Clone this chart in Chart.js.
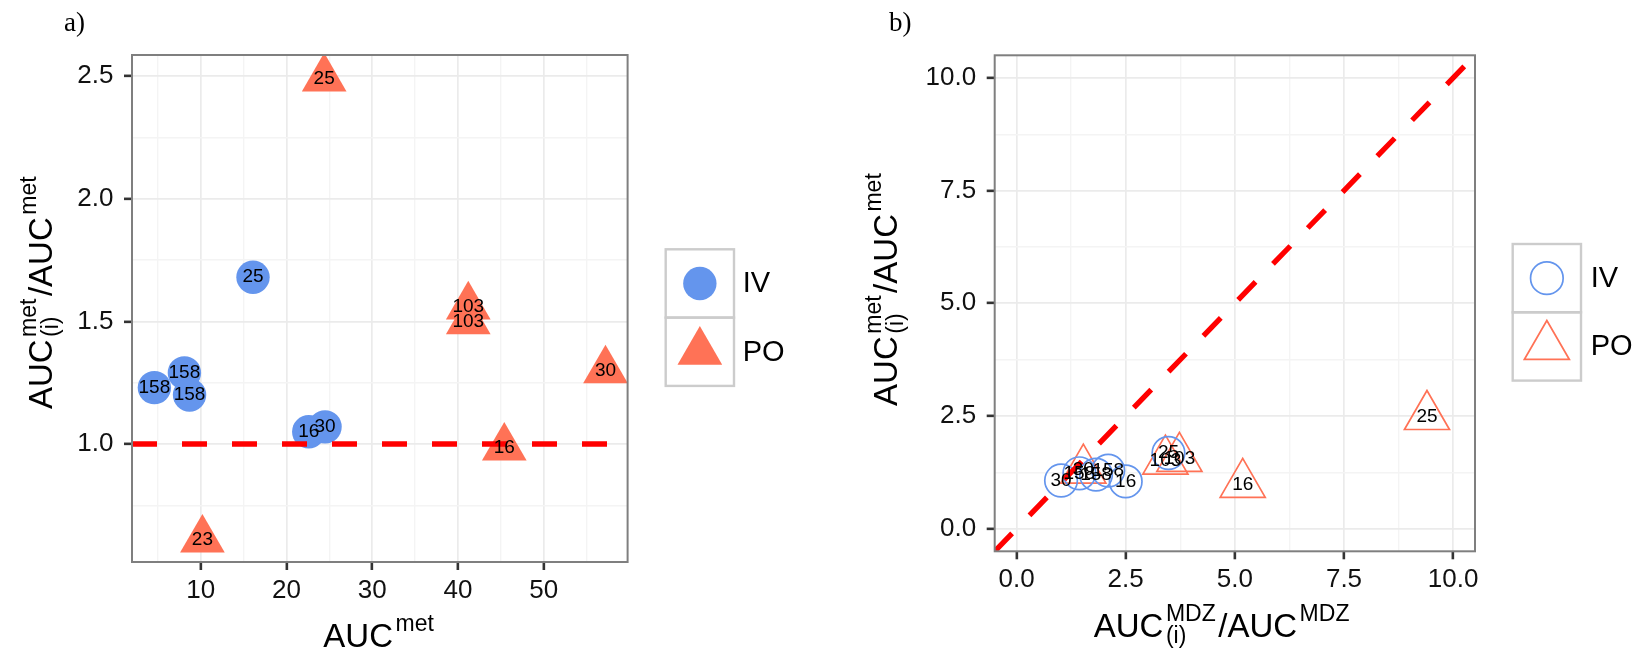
<!DOCTYPE html>
<html>
<head>
<meta charset="utf-8">
<script src="https://cdn.jsdelivr.net/npm/chart.js@4.4.0/dist/chart.umd.min.js"></script>
<style>
  html, body { margin: 0; padding: 0; background: #fff; }
  #wrap { position: relative; width: 1640px; height: 653px; }
  canvas { position: absolute; top: 0; }
  #panelA { left: 0; }
  #panelB { left: 820px; }
</style>
</head>
<body>
<div id="wrap">
  <canvas id="panelA" width="820" height="653"></canvas>
  <canvas id="panelB" width="820" height="653"></canvas>
</div>
<script>
// IV doses
const ivNames = ['158', '158', '158', '25', '16', '30'];
const ivAucMet = [4.6, 8.1, 8.7, 16.1, 22.6, 24.5];
const ivRatioMet = [1.23, 1.29, 1.20, 1.68, 1.05, 1.07];
const ivRatioMdz = [1.44, 2.10, 1.82, 3.48, 2.50, 1.02];

// PO doses (no MDZ ratio for 23)
const poNames = ['25', '103', '103', '30', '16', '23'];
const poAucMet = [24.4, 41.2, 41.2, 57.2, 45.4, 10.2];
const poRatioMet = [2.49, 1.56, 1.50, 1.30, 0.985, 0.61];
const poRatioMdz = [9.40, 3.73, 3.41, 1.53, 5.18, null];

// axis breaks and limits
const metTicks = [10, 20, 30, 40, 50];
const ratioTicks = [1.0, 1.5, 2.0, 2.5];
const mdzTicks = [0, 2.5, 5, 7.5, 10];
const metLimits = [1.99, 59.78];
const ratioLimits = [0.519, 2.586];
const mdzLimits = [-0.5, 10.5];
const refRatio = 1;

const FONT = '"Liberation Sans", Arial, sans-serif';
const IV_COL = '#6495ED';
const PO_COL = '#FF7256';
Chart.defaults.font.family = FONT;

const pts = (xs, ys, names) =>
  xs.map((x, i) => ({ x: x, y: ys[i], name: names[i] })).filter(p => p.x != null);

// major breaks plus the minor lines halfway between them
function withMinor(majors, limits) {
  const step = majors[1] - majors[0];
  const out = majors.map(v => ({ value: v }));
  const mids = majors.slice(0, -1).map(v => v + step / 2);
  mids.push(majors[0] - step / 2, majors[majors.length - 1] + step / 2);
  mids.filter(v => v > limits[0] && v < limits[1]).forEach(v => out.push({ value: v, minor: true }));
  return out.sort((a, b) => a.value - b.value);
}

function axis(limits, majors, fmt, size, horizontal) {
  return {
    type: 'linear',
    min: limits[0],
    max: limits[1],
    afterBuildTicks(scale) { scale.ticks = withMinor(majors, limits); },
    afterFit(scale) { if (horizontal) scale.height = size; else scale.width = size; },
    ticks: {
      autoSkip: false,
      maxRotation: 0,
      padding: horizontal ? 5 : 10.5,
      color: '#111',
      font: { size: 26 },
      callback: (v, i, ticks) => (ticks[i].minor ? '' : fmt(v))
    },
    grid: {
      color: c => (c.tick && c.tick.minor ? '#f4f4f4' : '#ebebeb'),
      lineWidth: c => (c.tick && c.tick.minor ? 1.4 : 1.7),
      tickColor: c => (c.tick && c.tick.minor ? 'rgba(0,0,0,0)' : '#333'),
      tickLength: 8,
      tickWidth: 2.6
    },
    border: { display: false }
  };
}

// text like AUC_(i)^met, with sub/superscripts stacked
function drawRich(ctx, groups, cx, base) {
  const main = 33, small = 23, gap = 2.5;
  const mainFont = main + 'px ' + FONT, smallFont = small + 'px ' + FONT;
  const widths = groups.map(g => {
    ctx.font = mainFont;
    const bw = ctx.measureText(g.base).width;
    ctx.font = smallFont;
    const sw = Math.max(g.sup ? ctx.measureText(g.sup).width : 0, g.sub ? ctx.measureText(g.sub).width : 0);
    return { bw, sw };
  });
  const total = widths.reduce((s, w) => s + w.bw + (w.sw ? w.sw + 2 * gap : 0), 0);
  let x = cx - total / 2;
  ctx.textAlign = 'left';
  ctx.textBaseline = 'alphabetic';
  groups.forEach((g, i) => {
    ctx.font = mainFont;
    ctx.fillText(g.base, x, base);
    x += widths[i].bw;
    if (widths[i].sw) {
      ctx.font = smallFont;
      if (g.sup) ctx.fillText(g.sup, x + gap, base - 16);
      if (g.sub) ctx.fillText(g.sub, x + gap, base + 6);
      x += widths[i].sw + 2 * gap;
    }
  });
}

function keyShape(ctx, ds, x, y) {
  ctx.fillStyle = ds.backgroundColor;
  ctx.strokeStyle = ds.borderColor;
  ctx.lineWidth = ds.borderWidth;
  Chart.helpers.drawPoint(ctx, {
    pointStyle: ds.pointStyle, radius: ds.pointRadius, rotation: 0, borderWidth: ds.borderWidth
  }, x, y);
}

const pointLabels = {
  id: 'pointLabels',
  afterDatasetsDraw(chart) {
    const { ctx, chartArea: a } = chart;
    ctx.save();
    ctx.beginPath();
    ctx.rect(a.left, a.top, a.right - a.left, a.bottom - a.top);
    ctx.clip();
    ctx.font = '19px ' + FONT;
    ctx.fillStyle = '#000';
    ctx.textAlign = 'center';
    ctx.textBaseline = 'middle';
    chart.data.datasets.forEach((ds, di) => {
      if (!ds.keyed) return;
      chart.getDatasetMeta(di).data.forEach((el, i) => ctx.fillText(ds.data[i].name, el.x, el.y));
    });
    ctx.restore();
  }
};

function panelDecor(spec) {
  return {
    id: 'panelDecor',
    afterDraw(chart) {
      const { ctx, chartArea: a } = chart;
      ctx.save();
      ctx.strokeStyle = '#7f7f7f';
      ctx.lineWidth = 2;
      ctx.strokeRect(a.left, a.top, a.right - a.left, a.bottom - a.top);

      ctx.fillStyle = '#000';
      drawRich(ctx, spec.xTitle, (a.left + a.right) / 2 + spec.xTitleShift, spec.xTitleY);
      ctx.save();
      ctx.translate(spec.yTitleX, (a.top + a.bottom) / 2 + spec.yTitleShift);
      ctx.rotate(-Math.PI / 2);
      drawRich(ctx, spec.yTitle, 0, 0);
      ctx.restore();

      ctx.font = '27px "Liberation Serif", serif';
      ctx.textAlign = 'left';
      ctx.textBaseline = 'alphabetic';
      ctx.fillText(spec.tag, spec.tagX, spec.tagY);

      // legend keys
      const k = spec.key;
      chart.data.datasets.filter(ds => ds.keyed).forEach((ds, i) => {
        const top = k.y + i * k.size;
        ctx.save();
        ctx.strokeStyle = '#cccccc';
        ctx.lineWidth = 2.4;
        ctx.strokeRect(k.x, top, k.size, k.size);
        keyShape(ctx, ds, k.x + k.size / 2, top + k.size / 2);
        ctx.restore();
        ctx.fillStyle = '#000';
        ctx.font = '29px ' + FONT;
        ctx.textAlign = 'left';
        ctx.textBaseline = 'middle';
        ctx.fillText(ds.label, k.textX, top + k.size / 2 + 1);
      });
      ctx.restore();
    }
  };
}

const ratioTitle = [{ base: 'AUC', sub: '(i)', sup: 'met' }, { base: '/AUC', sup: 'met' }];
const fmt1 = v => v.toFixed(1);

const common = {
  responsive: false,
  animation: false,
  events: [],
  plugins: { legend: { display: false }, tooltip: { enabled: false } }
};

// a) ratio against metabolite AUC
new Chart(document.getElementById('panelA'), {
  type: 'scatter',
  data: {
    datasets: [
      {
        type: 'line', order: 0,
        data: [{ x: metLimits[0], y: refRatio }, { x: metLimits[1], y: refRatio }],
        borderColor: '#ff0000', borderWidth: 5.3, borderDash: [25, 25], borderCapStyle: 'butt',
        pointRadius: 0, fill: false
      },
      {
        label: 'IV', keyed: true, order: 1,
        data: pts(ivAucMet, ivRatioMet, ivNames),
        pointStyle: 'circle', pointRadius: 16.7,
        backgroundColor: IV_COL, borderColor: IV_COL, borderWidth: 0
      },
      {
        label: 'PO', keyed: true, order: 2,
        data: pts(poAucMet, poRatioMet, poNames),
        pointStyle: 'triangle', pointRadius: 25.8,
        backgroundColor: PO_COL, borderColor: PO_COL, borderWidth: 0
      }
    ]
  },
  options: Object.assign({}, common, {
    layout: { padding: { left: 0, top: 55, right: 192.4, bottom: 0 } },
    scales: {
      x: axis(metLimits, metTicks, v => String(v), 91, true),
      y: axis(ratioLimits, ratioTicks, fmt1, 132, false)
    }
  }),
  plugins: [pointLabels, panelDecor({
    xTitle: [{ base: 'AUC', sup: 'met' }], xTitleY: 646.7, xTitleShift: 0,
    yTitle: ratioTitle, yTitleX: 52, yTitleShift: -17,
    tag: 'a)', tagX: 64, tagY: 31,
    key: { x: 665.7, y: 249.3, size: 68.3, textX: 742.7 }
  })]
});

// b) ratio against MDZ ratio, with identity line
new Chart(document.getElementById('panelB'), {
  type: 'scatter',
  data: {
    datasets: [
      {
        type: 'line', order: 0,
        data: [{ x: mdzLimits[0], y: mdzLimits[0] }, { x: mdzLimits[1], y: mdzLimits[1] }],
        borderColor: '#ff0000', borderWidth: 5.3, borderDash: [25, 25], borderCapStyle: 'butt',
        pointRadius: 0, fill: false
      },
      {
        label: 'IV', keyed: true, order: 1,
        data: pts(ivRatioMdz, ivRatioMet, ivNames),
        pointStyle: 'circle', pointRadius: 16.3,
        backgroundColor: 'rgba(0,0,0,0)', borderColor: IV_COL, borderWidth: 1.7
      },
      {
        label: 'PO', keyed: true, order: 2,
        data: pts(poRatioMdz, poRatioMet, poNames),
        pointStyle: 'triangle', pointRadius: 26,
        backgroundColor: 'rgba(0,0,0,0)', borderColor: PO_COL, borderWidth: 1.7
      }
    ]
  },
  options: Object.assign({}, common, {
    layout: { padding: { left: 0, top: 55.3, right: 165, bottom: 0 } },
    scales: {
      x: axis(mdzLimits, mdzTicks, fmt1, 101.7, true),
      y: axis(mdzLimits, mdzTicks, fmt1, 174.7, false)
    }
  }),
  plugins: [pointLabels, panelDecor({
    xTitle: [{ base: 'AUC', sub: '(i)', sup: 'MDZ' }, { base: '/AUC', sup: 'MDZ' }], xTitleY: 636.7, xTitleShift: -12,
    yTitle: ratioTitle, yTitleX: 77, yTitleShift: -15,
    tag: 'b)', tagX: 69, tagY: 31,
    key: { x: 692.7, y: 244, size: 68.3, textX: 770.7 }
  })]
});
</script>
</body>
</html>
